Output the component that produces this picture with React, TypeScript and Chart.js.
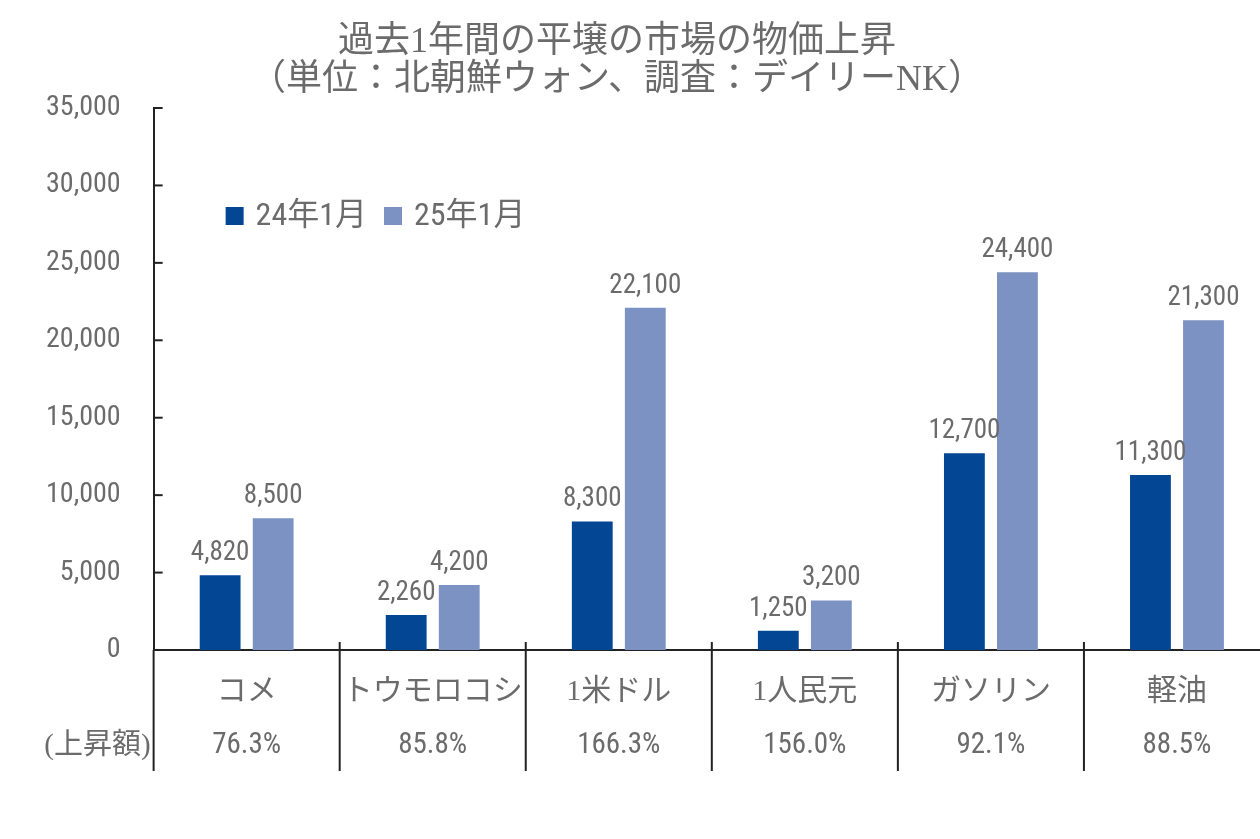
import React, { useEffect, useRef } from 'react';
import { Chart, registerables } from 'chart.js';

Chart.register(...registerables);

const titleLines = ['過去1年間の平壌の市場の物価上昇', '（単位：北朝鮮ウォン、調査：デイリーNK）'];
const categories = ['コメ', 'トウモロコシ', '1米ドル', '1人民元', 'ガソリン', '軽油'];
const seriesLabels = ['24年1月', '25年1月'];
const jan24 = [4820, 2260, 8300, 1250, 12700, 11300];
const jan25 = [8500, 4200, 22100, 3200, 24400, 21300];
const increaseRates = ['76.3%', '85.8%', '166.3%', '156.0%', '92.1%', '88.5%'];
const rateRowLabel = '(上昇額)';

const DARK = '#034794';
const LIGHT = '#7c92c2';
const TEXT = '#6b6b6b';
const AXIS = '#222222';
const NARROW = "'Roboto Condensed', 'Noto Sans CJK JP', sans-serif";
const SERIF_JP = "'Liberation Serif', 'Noto Sans CJK JP', serif";

const fmt = (v: number) => v.toLocaleString('en-US');

const decor = {
  id: 'decor',
  afterDraw(chart: any) {
    const { ctx, chartArea, scales } = chart;
    const x = scales.x;
    const y = scales.y;
    const line = (x1: number, y1: number, x2: number, y2: number) => {
      ctx.beginPath();
      ctx.moveTo(x1, y1);
      ctx.lineTo(x2, y2);
      ctx.stroke();
    };
    ctx.save();
    // title
    ctx.fillStyle = TEXT;
    ctx.textAlign = 'center';
    ctx.textBaseline = 'middle';
    ctx.font = `36px ${SERIF_JP}`;
    titleLines.forEach((t, i) => ctx.fillText(t, 617, 43 + i * 38));

    ctx.strokeStyle = AXIS;
    ctx.lineWidth = 2;
    // inward y ticks
    y.ticks.forEach((t: any) => {
      const py = y.getPixelForValue(t.value);
      line(chartArea.left, py, chartArea.left + 9, py);
    });
    // y axis extension and category separators below the axis
    const rowBottom = chartArea.bottom + 121;
    line(chartArea.left, chartArea.bottom, chartArea.left, rowBottom);
    for (let i = 1; i < categories.length; i++) {
      const px = (x.getPixelForValue(i - 1) + x.getPixelForValue(i)) / 2;
      line(px, chartArea.bottom - 8, px, rowBottom);
    }
    // increase rate row
    const rowY = chartArea.bottom + 96;
    ctx.fillStyle = TEXT;
    ctx.textBaseline = 'middle';
    ctx.textAlign = 'center';
    ctx.font = `29px ${NARROW}`;
    increaseRates.forEach((r, i) => {
      ctx.fillText(r, x.getPixelForValue(i), rowY);
    });
    ctx.textAlign = 'right';
    ctx.font = `29px ${SERIF_JP}`;
    ctx.fillText(rateRowLabel, chartArea.left - 3, rowY);
    // data labels
    ctx.textAlign = 'center';
    ctx.textBaseline = 'alphabetic';
    ctx.font = `27px ${NARROW}`;
    chart.data.datasets.forEach((ds: any, di: number) => {
      const meta = chart.getDatasetMeta(di);
      meta.data.forEach((bar: any, i: number) => {
        ctx.fillText(fmt(ds.data[i]), bar.x, bar.y - 15);
      });
    });
    // legend
    ctx.font = `32px ${NARROW}`;
    ctx.textAlign = 'left';
    ctx.textBaseline = 'middle';
    let lx = chartArea.left + 72;
    const ly = chartArea.top + 108;
    chart.data.datasets.forEach((ds: any) => {
      ctx.fillStyle = ds.backgroundColor;
      ctx.fillRect(lx, ly - 9, 18, 18);
      lx += 30;
      ctx.fillStyle = TEXT;
      ctx.fillText(ds.label, lx, ly + 1);
      lx += ctx.measureText(ds.label).width + 17;
    });
    ctx.restore();
  },
};

export default function App() {
  const ref = useRef<HTMLCanvasElement>(null);
  useEffect(() => {
    const canvas = ref.current;
    if (!canvas) return;
    const chart = new Chart(canvas, {
      type: 'bar',
      data: {
        labels: categories,
        datasets: [
          { label: seriesLabels[0], data: jan24, backgroundColor: DARK, categoryPercentage: 0.57, barPercentage: 0.77 },
          { label: seriesLabels[1], data: jan25, backgroundColor: LIGHT, categoryPercentage: 0.57, barPercentage: 0.77 },
        ],
      },
      options: {
        responsive: false,
        animation: false,
        devicePixelRatio: 1,
        layout: { padding: { top: 108, left: 13, right: 30, bottom: 105 } },
        plugins: {
          legend: { display: false },
          tooltip: { enabled: false },
          title: { display: false },
        },
        scales: {
          x: {
            grid: { display: false, drawTicks: false },
            border: { color: AXIS, width: 2 },
            ticks: { color: TEXT, font: { family: SERIF_JP, size: 30 }, padding: 24, maxRotation: 0, autoSkip: false },
          },
          y: {
            min: 0,
            max: 35000,
            grid: { display: false, drawTicks: false },
            border: { color: AXIS, width: 2 },
            ticks: {
              stepSize: 5000,
              color: TEXT,
              font: { family: NARROW, size: 28 },
              padding: 33,
              callback: (v: any) => fmt(Number(v)),
            },
          },
        },
      },
      plugins: [decor],
    });
    return () => chart.destroy();
  }, []);
  return (
    <div style={{ position: 'fixed', left: 0, top: 0, width: 1260, height: 839, overflow: 'hidden', background: '#fff' }}>
      <canvas ref={ref} width={1300} height={839} style={{ display: 'block' }} />
    </div>
  );
}
